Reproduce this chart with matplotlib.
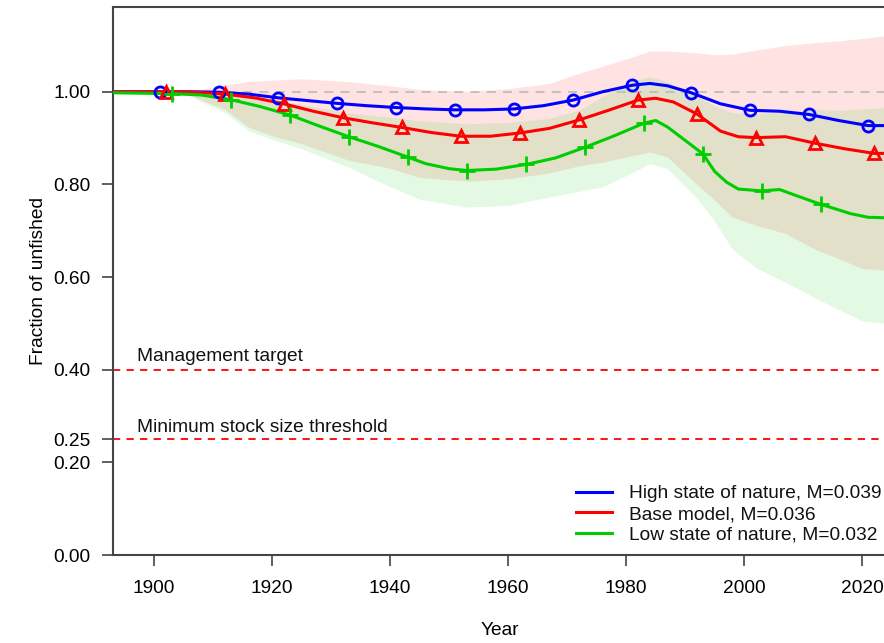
import numpy as np
import matplotlib
matplotlib.use('Agg')
import matplotlib.pyplot as plt

plt.rcParams['font.family'] = ['Liberation Sans', 'DejaVu Sans']

# Spawning output relative to unfished, three states of nature
high_years = [1892, 1901, 1906, 1911, 1916, 1921, 1926, 1931, 1936, 1941, 1946, 1951,
              1956, 1961, 1966, 1971, 1976, 1981, 1984, 1987, 1991, 1996, 2001, 2006,
              2011, 2016, 2021, 2024]
high_vals = [1.000, 1.000, 1.000, 0.999, 0.995, 0.987, 0.981, 0.975, 0.970, 0.966, 0.963, 0.961,
             0.961, 0.963, 0.970, 0.982, 1.000, 1.014, 1.018, 1.013, 0.998, 0.974, 0.960, 0.958,
             0.951, 0.938, 0.927, 0.927]

base_years = [1892, 1902, 1907, 1912, 1917, 1922, 1927, 1932, 1937, 1942, 1947, 1952,
              1957, 1962, 1967, 1972, 1977, 1982, 1985, 1988, 1992, 1996, 1999, 2002,
              2007, 2012, 2017, 2022, 2024]
base_vals = [1.000, 1.000, 0.999, 0.995, 0.987, 0.974, 0.958, 0.944, 0.933, 0.923, 0.912, 0.904,
             0.904, 0.911, 0.921, 0.939, 0.960, 0.982, 0.986, 0.978, 0.952, 0.915, 0.903, 0.901,
             0.903, 0.889, 0.877, 0.867, 0.867]

low_years = [1892, 1903, 1908, 1913, 1918, 1923, 1928, 1933, 1938, 1943, 1946, 1950,
             1953, 1958, 1963, 1968, 1973, 1978, 1983, 1985, 1987, 1990, 1993, 1995,
             1997, 1999, 2003, 2006, 2009, 2013, 2018, 2021, 2024]
low_vals = [0.998, 0.996, 0.993, 0.983, 0.968, 0.950, 0.926, 0.903, 0.882, 0.859, 0.845, 0.834,
            0.830, 0.833, 0.843, 0.857, 0.880, 0.905, 0.932, 0.938, 0.924, 0.895, 0.866, 0.828,
            0.805, 0.790, 0.786, 0.789, 0.775, 0.757, 0.737, 0.729, 0.728]

# uncertainty bands (base = red, low = green)
band_years = [1892, 1905, 1908, 1912, 1916, 1920, 1925, 1933, 1940, 1945, 1953, 1960,
              1967, 1972, 1976, 1981, 1984, 1987, 1992, 1995, 1998, 2002, 2007, 2012,
              2016, 2020, 2024]
base_hi = [1.000, 1.000, 1.006, 1.015, 1.022, 1.025, 1.028, 1.022, 1.013, 1.005, 1.001, 1.007,
           1.018, 1.040, 1.055, 1.075, 1.088, 1.088, 1.084, 1.080, 1.081, 1.090, 1.100, 1.106,
           1.110, 1.115, 1.121]
base_lo = [1.000, 1.000, 0.982, 0.962, 0.924, 0.905, 0.888, 0.852, 0.835, 0.815, 0.807, 0.812,
           0.825, 0.840, 0.848, 0.862, 0.870, 0.859, 0.800, 0.766, 0.729, 0.712, 0.694, 0.660,
           0.640, 0.618, 0.615]
low_hi = [1.000, 1.000, 0.999, 0.996, 0.990, 0.985, 0.972, 0.955, 0.945, 0.938, 0.931, 0.934,
          0.943, 0.960, 0.990, 1.022, 1.033, 1.022, 0.990, 0.970, 0.955, 0.953, 0.956, 0.962,
          0.960, 0.963, 0.966]
low_lo = [1.000, 1.000, 0.978, 0.955, 0.916, 0.897, 0.877, 0.837, 0.795, 0.768, 0.751, 0.755,
          0.773, 0.785, 0.795, 0.825, 0.845, 0.834, 0.770, 0.720, 0.660, 0.620, 0.589, 0.555,
          0.530, 0.505, 0.500]

labels = ['High state of nature, M=0.039', 'Base model, M=0.036', 'Low state of nature, M=0.032']
colors = ['blue', 'red', '#00CD00']
markers = ['o', '^', '+']
marker_start = [1901, 1902, 1903]

yticks = [0.0, 0.2, 0.25, 0.4, 0.6, 0.8, 1.0]
xticks = [1900, 1920, 1940, 1960, 1980, 2000, 2020]

FS = 13.8
W, H = 884, 643
fig = plt.figure(figsize=(W / 100, H / 100), dpi=100)
ax = fig.add_axes([113 / W, 1 - 555 / H, (887 - 113) / W, (555 - 7) / H])

ax.fill_between(band_years, base_lo, base_hi, color='red', alpha=0.11, lw=0)
ax.fill_between(band_years, low_lo, low_hi, color='#00CD00', alpha=0.11, lw=0)

ax.axhline(1.0, color='#bdbdbd', lw=1.3, ls=(0, (5, 4)), zorder=2)
ax.axhline(0.40, color='red', lw=1.3, ls=(0, (4, 3.5)), zorder=2)
ax.axhline(0.25, color='red', lw=1.3, ls=(0, (4, 3.5)), zorder=2)
ax.text(1897.1, 0.418, 'Management target', fontsize=FS, va='baseline', color='#111111')
ax.text(1897.1, 0.266, 'Minimum stock size threshold', fontsize=FS, va='baseline', color='#111111')

series = [(high_years, high_vals), (base_years, base_vals), (low_years, low_vals)]
for (yrs, vals), lab, col, mk, m0 in zip(series, labels, colors, markers, marker_start):
    idx = [i for i, y in enumerate(yrs) if y >= m0 and (y - m0) % 10 == 0]
    ax.plot(yrs, vals, color=col, lw=2.2, zorder=3, label=lab)
    ax.plot(np.array(yrs)[idx], np.array(vals)[idx], ls='none', marker=mk,
            ms=12 if mk == '+' else 8, mfc='none', mec=col, mew=2, zorder=4)

ax.set_xlim(1893.05, 2024.2)
ax.set_ylim(0, 1.183)
ax.set_xticks(xticks)
ax.set_yticks(yticks)
ax.set_yticklabels(['%.2f' % v for v in yticks])
ax.tick_params(axis='both', direction='out', length=8, width=1.2, color='#444444',
               labelsize=FS, pad=8)
ax.tick_params(axis='x', pad=10)
for s in ax.spines.values():
    s.set_color('#444444')
    s.set_linewidth(1.5)

ax.set_xlabel('Year', fontsize=FS)
ax.set_ylabel('Fraction of unfished', fontsize=FS)
ax.xaxis.set_label_coords(0.5, -0.122)
ax.yaxis.set_label_coords(-0.0853, 0.5)

leg = ax.legend(loc='upper left', bbox_to_anchor=(576 / W, 1 - 485 / H),
                bbox_transform=fig.transFigure, frameon=False, fontsize=FS,
                handlelength=1.9, handletextpad=0.85, labelspacing=0.17,
                borderpad=0, borderaxespad=0)
for t in leg.get_texts():
    t.set_color('#111111')

fig.savefig('out.png', dpi=100)
